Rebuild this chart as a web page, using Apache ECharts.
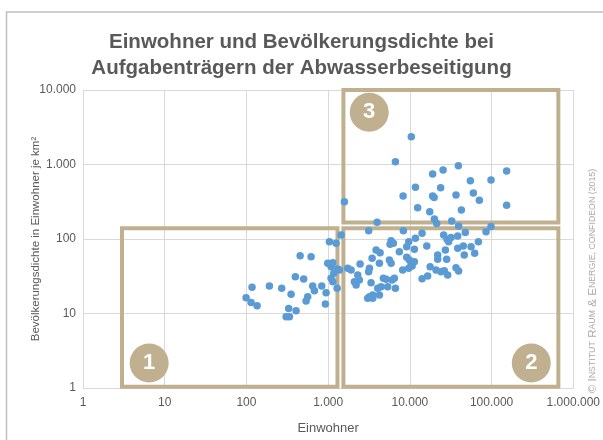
<!DOCTYPE html>
<html>
<head>
<meta charset="utf-8">
<script src="https://cdn.jsdelivr.net/npm/echarts@6/dist/echarts.min.js"></script>
<style>html,body{margin:0;padding:0;background:#fff}#c{width:603px;height:440px}</style>
</head>
<body>
<div id="c"></div>
<script>
// Einwohner (x) and Bevölkerungsdichte (y, Einwohner je km²)
var einwohner = [10400,6650,1580,19000,25500,39200,152800,98400,55000,11700,23800,8260,19000,19800,36700,59800,70800,152800,12450,17500,42700,19950,32500,3970,21300,
39500,98400,3130,8320,85500,47700,38500,25900,14100,11700,1440,1035,1250,
28500,31900,29800,16100,11350,38500,45100,56100,68900,46300,62100,27200,21900,21900,28200,9860,11350,10650,17700,20900,24100,26400,29000,36700,39500,16500,14100,
5890,6280,5730,9680,7430,9140,3860,4320,5610,5890,9140,3450,4240,2460,988,1140,1087,1735,1910,3200,3130,1373,8170,9680,10350,2300,4740,5120,6460,6060,1087,1140,2095,2200,3350,4440,4040,5350,6650,944,3510,3200,3050,3510,925,
454,618,1310,1170,397,502,117,191,270,647,679,834,1288,352,562,537,99,114,135,329,405,306,336,2410,4240];
var dichte = [2360,1090,317,745,844,964,818,619,606,494,488,378,378,361,390,414,331,283,263,232,245,185,174,168,162,
149,147,129,129,125,122,110,113,119,102,113,92,87.5,
99,105,92,80.5,72.8,75,80.5,78.8,92,61,64.3,71.2,61,53.4,53.4,52.3,49.6,43.4,42.5,38.4,36.4,37.5,32.9,41.2,37.2,31.9,29.3,
94.9,87.5,84.9,92,67.6,78.8,71.2,65.5,52.3,47.2,56.8,55.1,47.2,46.2,47.2,48.1,42.5,40.4,38.4,40.4,36.4,38.4,38.4,40.4,44.8,32.9,29.7,28.8,29.7,28.2,29.7,26.7,26.7,24.1,25.9,22.9,21.8,22.9,21.8,19.0,17.7,16.8,16.0,16.0,13.4,
59.7,57.9,39.6,34.6,31.2,29.0,22.5,23.4,21.8,23.4,20.2,23.4,21.8,18.1,16.8,14.7,16.3,14.0,12.7,11.7,10.9,9.06,9.06,28.2,17.7];

// Annotation boxes (data coordinates): [xMin, yMin, xMax, yMax]
var boxes = [[3.0,1.04,1300,139],[1537,1.04,656000,139],[1537,166,656000,10300]];
// Numbered circles: label, x, y
var markLabels = ['1','2','3'];
var markX = [6.45,306000,3180];
var markY = [2.17,2.17,5020];

var xTicks = [1,10,100,1000,10000,100000,1000000];
var yTicks = [1,10,100,1000,10000];

function fmt(v){ v = Math.round(v); return String(v).replace(/\B(?=(\d{3})+(?!\d))/g,'.'); }

var pts = einwohner.map(function(x,i){ return [x, dichte[i]]; });
var tan = '#C0B090';
var font = "'Liberation Sans', Arial, sans-serif";

var chart = echarts.init(document.getElementById('c'), null, {renderer:'canvas'});
chart.setOption({
  animation:false,
  textStyle:{fontFamily:font},
  title:{
    text:'Einwohner und Bevölkerungsdichte bei\nAufgabenträgern der Abwasserbeseitigung',
    left:'center', top:24,
    textStyle:{fontSize:20.5, fontWeight:'bold', color:'#595959', lineHeight:26, fontFamily:font}
  },
  grid:{left:83, right:29, top:90, bottom:52},
  xAxis:{
    type:'log', logBase:10, min:xTicks[0], max:xTicks[xTicks.length-1],
    name:'Einwohner', nameLocation:'middle', nameGap:34, nameMoveOverlap:false,
    nameTextStyle:{fontSize:13, color:'#595959', fontFamily:font},
    axisLine:{show:true, lineStyle:{color:'#d9d9d9'}},
    axisTick:{show:false},
    axisLabel:{fontSize:12, color:'#595959', margin:9, formatter:fmt, fontFamily:font},
    splitLine:{show:true, lineStyle:{color:'#d9d9d9'}},
    minorTick:{show:false}
  },
  yAxis:{
    type:'log', logBase:10, min:yTicks[0], max:yTicks[yTicks.length-1],
    name:'Bevölkerungsdichte in Einwohner je km²', nameLocation:'middle', nameGap:41, nameMoveOverlap:false,
    nameTextStyle:{fontSize:11.5, color:'#595959', fontFamily:font},
    axisLine:{show:true, lineStyle:{color:'#d9d9d9'}},
    axisTick:{show:false},
    axisLabel:{fontSize:12, color:'#595959', margin:7, formatter:fmt, fontFamily:font},
    splitLine:{show:true, lineStyle:{color:'#d9d9d9'}}
  },
  series:[
    {
      type:'scatter', data:pts, symbolSize:7.5, z:2,
      itemStyle:{color:'#5B9BD5', opacity:1}
    },
    {
      type:'scatter', data:[], z:5,
      markArea:{
        silent:true,
        itemStyle:{color:'rgba(0,0,0,0)', borderColor:tan, borderWidth:4},
        data: boxes.map(function(b){ return [{coord:[b[0],b[1]]},{coord:[b[2],b[3]]}]; })
      },
      markPoint:{
        silent:true, symbol:'circle', symbolSize:39,
        itemStyle:{color:tan},
        label:{show:true, color:'#fff', fontSize:22, fontWeight:'bold', fontFamily:font},
        data: markLabels.map(function(l,i){ return {coord:[markX[i],markY[i]], value:l, label:{formatter:l}}; })
      }
    }
  ],
  graphic:[
    {type:'rect', shape:{x:6.5, y:12, width:700, height:500}, style:{fill:'none', stroke:'#bfbfbf', lineWidth:1.5}, silent:true, z:-1},
    {type:'text', x:593, y:281, rotation:Math.PI/2,
     style:{
       text:'{b|© I}{s|NSTITUT} {b|R}{s|AUM} {b|& E}{s|NERGIE, CONFIDEON (2015)}',
       align:'center', verticalAlign:'middle',
       rich:{
         b:{fontSize:11.5, fill:'#aaaaaa', fontFamily:font},
         s:{fontSize:8.8, fill:'#aaaaaa', fontFamily:font}
       }
     }}
  ]
});
</script>
</body>
</html>
